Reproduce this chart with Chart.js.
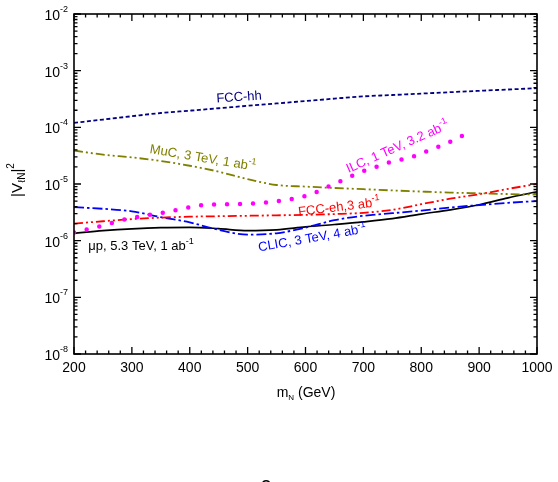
<!DOCTYPE html>
<html>
<head>
<meta charset="utf-8">
<script src="https://cdn.jsdelivr.net/npm/chart.js@4/dist/chart.umd.min.js"></script>
<style>
  body { margin: 0; background: #fff; }
  canvas { display: block; }
</style>
</head>
<body>
<canvas id="limits" width="558" height="482"></canvas>
<script>
// heavy neutrino mixing reach vs mass
const mass = [200, 250, 300, 350, 400, 450, 500, 550, 600, 650, 700, 750, 800, 850, 900, 950, 1000];
const fccHH = [1.2e-4, 1.37e-4, 1.57e-4, 1.79e-4, 1.97e-4, 2.17e-4, 2.4e-4, 2.64e-4, 2.91e-4, 3.21e-4, 3.52e-4, 3.72e-4, 3.94e-4, 4.17e-4, 4.41e-4, 4.65e-4, 4.9e-4];
const muC = [3.9e-5, 3.3e-5, 2.95e-5, 2.55e-5, 2.1e-5, 1.65e-5, 1.22e-5, 9.6e-6, 9.0e-6, 8.5e-6, 8.1e-6, 7.7e-6, 7.35e-6, 7.05e-6, 6.85e-6, 6.65e-6, 6.5e-6];
const fccEH = [2.0e-6, 2.2e-6, 2.4e-6, 2.55e-6, 2.65e-6, 2.7e-6, 2.75e-6, 2.8e-6, 2.85e-6, 2.95e-6, 3.1e-6, 3.5e-6, 4.4e-6, 5.5e-6, 6.6e-6, 8.2e-6, 1.0e-5];
const clic = [3.9e-6, 3.65e-6, 3.3e-6, 2.6e-6, 2.1e-6, 1.55e-6, 1.28e-6, 1.35e-6, 1.7e-6, 2.3e-6, 2.75e-6, 3.05e-6, 3.4e-6, 3.85e-6, 4.25e-6, 4.65e-6, 5.0e-6];
const muP = [1.35e-6, 1.5e-6, 1.62e-6, 1.7e-6, 1.72e-6, 1.63e-6, 1.5e-6, 1.55e-6, 1.75e-6, 1.93e-6, 2.15e-6, 2.45e-6, 2.95e-6, 3.5e-6, 4.3e-6, 5.7e-6, 7.3e-6];
// ILC curve stops before 1 TeV
const ilcMass = [200, 245, 290, 335, 360, 430, 475, 520, 565, 590, 610, 632, 656, 679, 701, 724, 746, 768, 793, 813, 838, 860, 890];
const ilc = [1.4e-6, 1.8e-6, 2.4e-6, 2.9e-6, 3.2e-6, 4.3e-6, 4.4e-6, 4.6e-6, 5.2e-6, 5.8e-6, 6.6e-6, 8.3e-6, 1.07e-5, 1.37e-5, 1.7e-5, 2.03e-5, 2.42e-5, 2.73e-5, 3.22e-5, 3.9e-5, 4.9e-5, 6.2e-5, 9.0e-5];

const xTicks = [200, 300, 400, 500, 600, 700, 800, 900, 1000];
const yExps = [-8, -7, -6, -5, -4, -3, -2];

function pts(xs, ys) {
    return xs.map((x, i) => ({ x: x, y: ys[i] }));
}

function line(label, xs, ys, color, dash, width) {
    return {
        label: label,
        data: pts(xs, ys),
        borderColor: color,
        borderWidth: width,
        borderDash: dash,
        pointRadius: 0,
        fill: false,
        cubicInterpolationMode: 'monotone'
    };
}

// text with a raised or lowered small part
function richText(ctx, parts, x, y, align) {
    let w = 0;
    parts.forEach(p => { ctx.font = p.f; w += ctx.measureText(p.t).width; });
    let cx = align === 'right' ? x - w : (align === 'center' ? x - w / 2 : x);
    ctx.textAlign = 'left';
    ctx.textBaseline = 'alphabetic';
    parts.forEach(p => {
        ctx.font = p.f;
        ctx.fillText(p.t, cx, y + (p.dy || 0));
        cx += ctx.measureText(p.t).width;
    });
}

function curveLabel(ctx, parts, cx, cy, deg, color) {
    ctx.save();
    ctx.translate(cx, cy);
    ctx.rotate(deg * Math.PI / 180);
    ctx.fillStyle = color;
    richText(ctx, parts, 0, 5, 'center');
    ctx.restore();
}

const F = '"Liberation Sans", Arial, sans-serif';
const big = '14px ' + F, lab = '13px ' + F, sm = '9px ' + F;

const framePlugin = {
    id: 'frame',
    afterDatasetsDraw(chart) {
        const ctx = chart.ctx, a = chart.chartArea;
        const xs = chart.scales.x, ys = chart.scales.y;
        ctx.save();
        ctx.strokeStyle = '#000';
        ctx.lineWidth = 1.6;
        ctx.strokeRect(a.left, a.top, a.right - a.left, a.bottom - a.top);

        ctx.lineWidth = 1.3;
        ctx.beginPath();
        // x ticks, inward on bottom and top
        for (let v = 200; v <= 1000; v += 20) {
            const px = xs.getPixelForValue(v);
            const len = (v % 100 === 0) ? 7 : 3.5;
            ctx.moveTo(px, a.bottom); ctx.lineTo(px, a.bottom - len);
            ctx.moveTo(px, a.top); ctx.lineTo(px, a.top + len);
        }
        // y ticks on log scale, left and right
        for (let e = -8; e <= -2; e++) {
            for (let m = 1; m <= 9; m++) {
                if (e === -2 && m > 1) break;
                const py = ys.getPixelForValue(m * Math.pow(10, e));
                const len = m === 1 ? 7 : 3.5;
                ctx.moveTo(a.left, py); ctx.lineTo(a.left + len, py);
                ctx.moveTo(a.right, py); ctx.lineTo(a.right - len, py);
            }
        }
        ctx.stroke();

        ctx.fillStyle = '#000';
        ctx.font = big;
        ctx.textAlign = 'center';
        ctx.textBaseline = 'middle';
        xTicks.forEach(v => ctx.fillText(String(v), xs.getPixelForValue(v), 368));

        yExps.forEach(e => {
            const py = ys.getPixelForValue(Math.pow(10, e));
            richText(ctx, [{ t: '10', f: big }, { t: String(e), f: sm, dy: -8 }], 68, py + 6, 'right');
        });

        // axis titles
        richText(ctx, [{ t: 'm', f: big }, { t: 'N', f: '8px ' + F, dy: 3 }, { t: ' (GeV)', f: big }], 306, 397, 'center');
        ctx.save();
        ctx.translate(22, 180);
        ctx.rotate(-Math.PI / 2);
        richText(ctx, [{ t: '|V', f: '15px ' + F }, { t: '\u2113N', f: '10px ' + F, dy: 3 }, { t: '|', f: '15px ' + F }, { t: '2', f: '10px ' + F, dy: -8 }], 0, 0, 'center');
        ctx.restore();

        // curve labels
        curveLabel(ctx, [{ t: 'FCC-hh', f: lab }], 239, 96, -4, '#000080');
        curveLabel(ctx, [{ t: 'MuC, 3 TeV, 1 ab', f: lab }, { t: '-1', f: sm, dy: -6 }], 203, 157, 9.5, '#808000');
        curveLabel(ctx, [{ t: 'ILC, 1 TeV, 3.2 ab', f: lab }, { t: '-1', f: sm, dy: -6 }], 397, 146, -24, '#ff00ff');
        curveLabel(ctx, [{ t: 'FCC-eh,3 ab', f: lab }, { t: '-1', f: sm, dy: -6 }], 339, 206, -7, '#ff0000');
        curveLabel(ctx, [{ t: 'CLIC, 3 TeV, 4 ab', f: lab }, { t: '-1', f: sm, dy: -6 }], 312, 237, -10, '#0000ff');
        curveLabel(ctx, [{ t: '\u03bcp, 5.3 TeV, 1 ab', f: lab }, { t: '-1', f: sm, dy: -6 }], 141, 245, 0, '#000');

        // clipped fragment at the very bottom edge
        ctx.fillStyle = '#000';
        ctx.font = '20px ' + F;
        ctx.textAlign = 'center';
        ctx.textBaseline = 'alphabetic';
        ctx.fillText('i', 222, 497);
        ctx.fillText('2', 266, 494);
        ctx.restore();
    }
};

const ilcSet = line('ILC', ilcMass, ilc, '#ff00ff', [0, 13], 4.5);
ilcSet.borderCapStyle = 'round';

new Chart(document.getElementById('limits'), {
    type: 'line',
    data: {
        datasets: [
            line('FCC-hh', mass, fccHH, '#000080', [4, 2.5], 1.8),
            line('MuC', mass, muC, '#808000', [9, 3, 2, 3, 2, 3], 1.8),
            ilcSet,
            line('FCC-eh', mass, fccEH, '#ff0000', [9, 3, 2, 3, 2, 3], 1.8),
            line('CLIC', mass, clic, '#0000ff', [10, 3, 2.5, 3], 1.8),
            line('mu p', mass, muP, '#000000', [], 1.7)
        ]
    },
    options: {
        responsive: false,
        animation: false,
        layout: { padding: { left: 74, right: 21, top: 14, bottom: 128 } },
        plugins: { legend: { display: false }, tooltip: { enabled: false } },
        scales: {
            x: { type: 'linear', min: 200, max: 1000, display: false },
            y: { type: 'logarithmic', min: 1e-8, max: 1e-2, display: false }
        }
    },
    plugins: [framePlugin]
});
</script>
</body>
</html>
